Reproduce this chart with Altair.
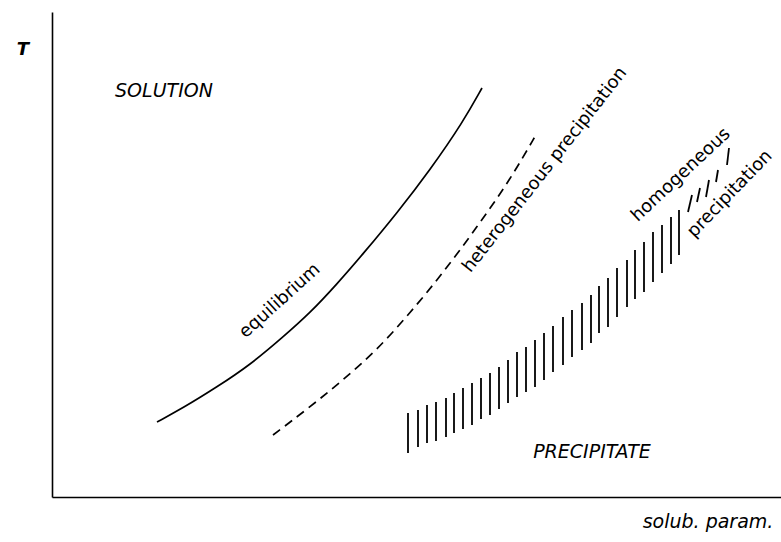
import altair as alt
import pandas as pd

# Equilibrium curve (solid)
eq_x = [105, 131, 165, 198, 231, 258, 285, 311, 345, 378, 411, 430]
eq_t = [75, 89, 110, 132, 160, 184, 213, 243, 284, 327, 375, 409]

# Heterogeneous precipitation curve (dashed)
het_x = [221, 258, 291, 325, 358, 391, 425, 458, 485]
het_t = [62, 90, 117, 147, 184, 224, 270, 317, 364]

# Hatched band (homogeneous precipitation): bottom x, top x, low T, high T
hatch_x = [356, 366, 375, 384, 394, 402, 411, 420, 429, 438, 447, 456, 465, 474, 483,
           492, 501, 511, 520, 530, 539, 547, 556, 565, 575, 583, 592, 601, 610, 619,
           627, 636, 645, 654, 664, 675]
hatch_x2 = [356, 366, 375, 384, 394, 402, 411, 420, 429, 438, 447, 456, 465, 474, 483,
            492, 501, 511, 520, 530, 539, 547, 556, 565, 575, 583, 592, 601, 610, 619,
            627, 640, 648, 657, 666, 677]
hatch_lo = [44, 50, 54, 56, 60, 64, 68, 72, 78, 82, 88, 94, 100, 105, 110,
            117, 125, 132, 140, 147, 154, 164, 170, 180, 190, 198, 205, 215, 224, 233,
            242, 285, 295, 300, 315, 332]
hatch_hi = [84, 87, 92, 95, 99, 104, 109, 114, 119, 124, 130, 137, 145, 150, 157,
            164, 171, 180, 187, 194, 202, 211, 219, 229, 237, 247, 255, 265, 272, 280,
            287, 302, 309, 317, 327, 349]

# Labels
axis_title_text = ["T"]
axis_title_x = [-29]
axis_title_t = [447]

italic_text = ["SOLUTION", "PRECIPITATE", "solub. param."]
italic_x = [112, 540, 656]
italic_t = [406, 45, -25]

rot_text = ["equilibrium", "heterogeneous  precipitation", "homogeneous", "precipitation"]
rot_x = [228, 493, 629, 678]
rot_t = [196, 327, 322, 303]
rot_angle = [318, 308, 317, 314]

W, H = 729, 485
xs = alt.Scale(domain=[0, W], nice=False, zero=False)
ys = alt.Scale(domain=[0, H], nice=False, zero=False)
FONT = "DejaVu Sans"

eq_df = pd.DataFrame({"x": eq_x, "t": eq_t})
het_df = pd.DataFrame({"x": het_x, "t": het_t})
hatch_df = pd.DataFrame({"x": hatch_x, "x2": hatch_x2, "lo": hatch_lo, "hi": hatch_hi})
tt_df = pd.DataFrame({"label": axis_title_text, "x": axis_title_x, "t": axis_title_t})
it_df = pd.DataFrame({"label": italic_text, "x": italic_x, "t": italic_t})
rot_df = pd.DataFrame({"label": rot_text, "x": rot_x, "t": rot_t, "angle": rot_angle})


def X(field):
    return alt.X(field, scale=xs, title=None)


def Y(field):
    return alt.Y(field, scale=ys, title=None)


eq = alt.Chart(eq_df).mark_line(color="black", strokeWidth=1.7, interpolate="basis").encode(
    x=X("x:Q"), y=Y("t:Q"), order="x:Q",
)

het = alt.Chart(het_df).mark_line(color="black", strokeWidth=1.7, strokeDash=[9, 6],
                                  interpolate="basis").encode(
    x=X("x:Q"), y=Y("t:Q"), order="x:Q",
)

hatch = alt.Chart(hatch_df).mark_rule(color="black", strokeWidth=1.8).encode(
    x=X("x:Q"), x2="x2:Q", y=Y("lo:Q"), y2="hi:Q",
)

t_label = alt.Chart(tt_df).mark_text(font=FONT, fontSize=18, fontStyle="italic", fontWeight="bold",
                                     color="black", align="center", baseline="middle").encode(
    x=X("x:Q"), y=Y("t:Q"), text="label:N",
)

it_labels = alt.Chart(it_df).mark_text(font=FONT, fontSize=19, fontStyle="italic",
                                       color="black", align="center", baseline="middle").encode(
    x=X("x:Q"), y=Y("t:Q"), text="label:N",
)

rot_labels = alt.Chart(rot_df).mark_text(font=FONT, fontSize=18, color="black",
                                         align="center", baseline="middle").encode(
    x=X("x:Q"), y=Y("t:Q"), text="label:N",
    angle=alt.Angle("angle:Q", scale=None),
)

chart = alt.layer(eq, het, hatch, t_label, it_labels, rot_labels).properties(
    width=W, height=H,
    autosize=alt.AutoSizeParams(type="none"),
    padding={"left": 52, "top": 12, "right": 0, "bottom": 45},
    background="white",
).configure_view(stroke=None).configure_axis(
    domain=True, ticks=False, labels=False, grid=False,
    domainColor="black", domainWidth=1.6,
)

chart.save("out.html", embed_options={"renderer": "svg", "actions": False})
